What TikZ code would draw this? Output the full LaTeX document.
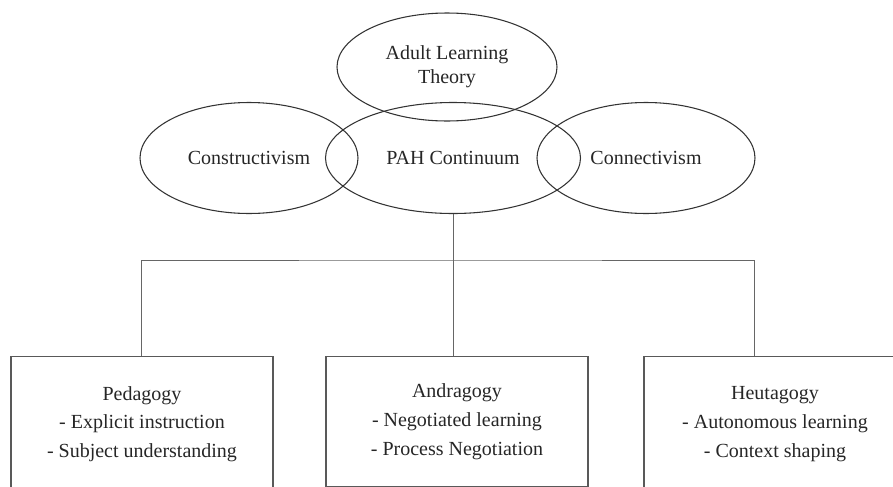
\documentclass[tikz,border=0pt]{standalone}
\usepackage{fontspec}
\setmainfont{Liberation Serif}
\usetikzlibrary{shapes.geometric}
\begin{document}
\begin{tikzpicture}[x=0.75pt,y=-0.75pt,
  theory/.style={ellipse, draw=black!80, line width=0.8pt, inner sep=0pt,
    font=\fontsize{15pt}{18pt}\selectfont, text=black!85, align=center},
  approach/.style={rectangle, draw=black!65, line width=1pt, inner sep=0pt,
    minimum width=196.5pt, anchor=north, align=center,
    font=\fontsize{15pt}{21.5pt}\selectfont, text=black!85},
  link/.style={draw=black!60, line width=0.7pt}]
\useasboundingbox (0,0) rectangle (893,486);
\clip (0,0) rectangle (893,486);

% overlapping theory ellipses
\node[theory, minimum width=163.5pt, minimum height=83.25pt] (cons) at (249,158) {Constructivism};
\node[theory, minimum width=163.5pt, minimum height=83.25pt] (conn) at (646,158) {Connectivism};
\node[theory, minimum width=191.25pt, minimum height=83.25pt] (pah) at (453,158) {PAH Continuum};
\node[theory, minimum width=165pt, minimum height=81pt] (alt) at (447,67) {Adult Learning\\Theory};

% the three approaches
\node[approach, minimum height=101.25pt] (ped) at (142,356) {Pedagogy\\- Explicit instruction\\- Subject understanding};
\node[approach, minimum height=97.5pt] (and) at (457,356) {Andragogy\\- Negotiated learning\\- Process Negotiation};
\node[approach, minimum height=101.25pt] (heu) at (775,356) {Heutagogy\\- Autonomous learning\\- Context shaping};

% tree connectors
\coordinate (bus) at (453,260);
\coordinate (pedtop) at (141,356);
\coordinate (andtop) at (453,356);
\coordinate (heutop) at (754,356);
\draw[link] (pah.south) -- (bus);
\draw[link] (pedtop) |- (bus) -| (heutop);
\draw[link] (bus) -- (andtop);
\end{tikzpicture}
\end{document}
